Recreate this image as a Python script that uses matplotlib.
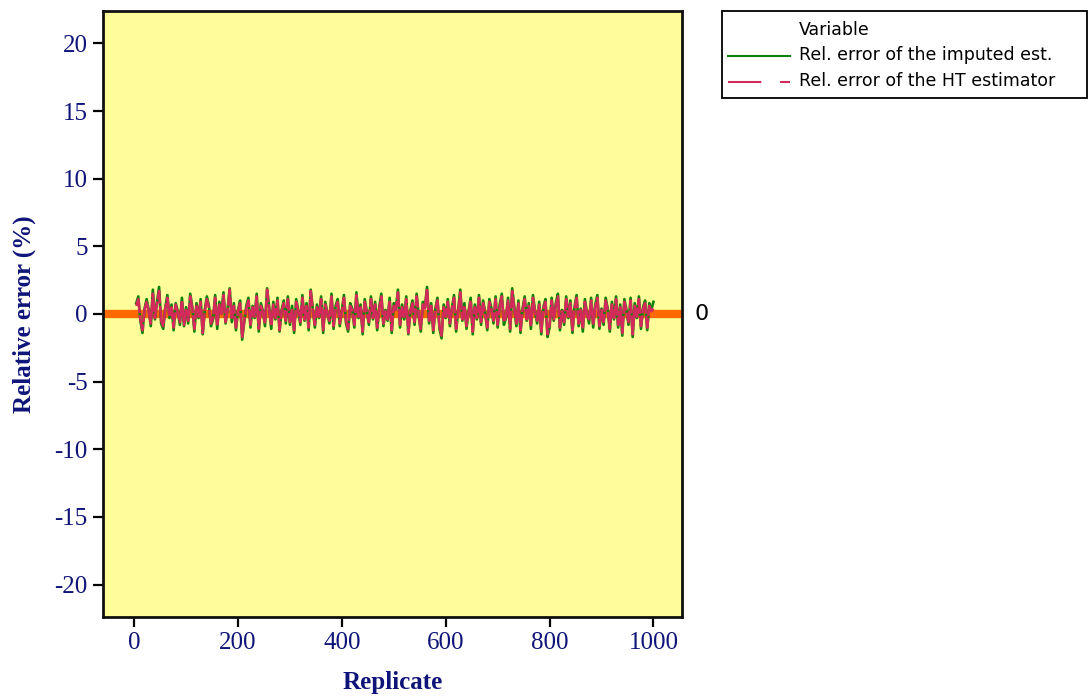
import numpy as np
import matplotlib
matplotlib.use("Agg")
import matplotlib.pyplot as plt
from matplotlib.lines import Line2D
from matplotlib.patches import Rectangle

# ---- data (every 4th replicate) ----
replicates = list(range(4, 1001, 4))

ht_error = [
    0.6, 1.1, -0.4, -1.2, 0.3, 0.9, 0.2, -0.7, 1.5, -0.3, 0.8, 1.7, -0.5, -0.9, 0.4, 1.2, -0.2, 0.5, -1.0, 0.7, 0.1, -0.6, 1.0, -0.8, 0.3,
    -0.5, 1.3, 0.4, -1.1, 0.6, -0.2, 0.9, -1.4, 0.2, 1.1, 0.5, -0.7, -0.3, 1.2, -0.9, 0.7, 0.0, 1.4, -0.6, 0.3, 1.8, -0.4, 0.6, -1.0, 0.2,
    0.8, -1.7, -0.5, 0.4, 1.0, -0.8, 0.5, -0.2, 1.3, -1.1, 0.6, 0.1, -0.7, 1.8, 0.4, -0.9, 0.7, -0.3, 1.0, -1.2, 0.2, 0.8, -0.5, 1.1, -0.6,
    0.4, -1.3, 0.9, 0.2, -0.6, 1.2, -0.4, 0.6, -1.0, 1.7, 0.3, -0.8, 0.5, -0.2, 1.1, -1.2, 0.7, 0.0, -0.5, 1.3, -0.9, 0.4, 0.9, -0.7, 0.2,
    1.2, -0.5, -1.1, 0.6, 0.3, -0.8, 1.4, -0.2, 0.5, -1.3, 0.9, 0.1, -0.6, 1.1, -0.3, 0.7, -1.0, 0.4, 1.3, -0.7, 0.2, -0.4, 1.0, -1.2, 0.6,
    0.3, 1.6, -0.8, 0.5, -0.3, 1.1, -1.4, 0.2, 0.8, -0.6, 1.3, -0.1, -1.1, 0.7, 0.4, 1.9, -0.5, 0.6, -1.2, 0.3, 1.0, -0.9, -1.6, 0.5, -0.2,
    0.9, -0.7, 0.4, 1.2, -1.1, 0.2, 1.6, -0.4, 0.6, -0.9, 0.1, 1.0, -1.3, 0.5, -0.3, 1.2, -0.6, 0.8, 0.0, -1.0, 0.9, 0.3, -0.5, 1.1, -0.8,
    0.5, 1.3, -0.6, -0.2, 1.0, -1.1, 1.7, 0.4, -0.7, 0.8, -1.2, 0.3, 1.1, -0.4, 0.6, -0.9, 1.2, 0.1, -0.5, 0.7, -1.3, 0.4, 0.9, -1.5, -0.8,
    1.0, -0.4, 0.6, 1.3, -1.0, 0.2, -0.6, 1.1, -0.2, 0.8, -1.2, 0.4, 1.2, -0.7, 0.3, -1.1, 0.9, 0.0, -0.5, 1.0, -0.8, 0.5, 1.2, -0.9, 0.3,
    -0.6, 1.0, 0.3, -1.1, 0.7, -0.3, 1.1, -0.8, 0.5, -1.4, 0.9, 0.2, -0.6, 1.0, -1.5, 0.6, -0.2, 1.1, -0.9, 0.4, 0.8, -1.0, 0.6, 0.2, 0.4,
]

imputed_error = [
    0.8, 1.3, -0.5, -1.4, 0.4, 1.1, 0.3, -0.9, 1.8, -0.4, 0.9, 2.0, -0.7, -1.1, 0.5, 1.4, -0.3, 0.7, -1.2, 0.8, 0.2, -0.8, 1.2, -0.9, 0.5,
    -0.7, 1.5, 0.5, -1.3, 0.8, -0.3, 1.1, -1.5, 0.3, 1.3, 0.6, -0.9, -0.4, 1.4, -1.1, 0.9, 0.1, 1.6, -0.7, 0.4, 1.9, -0.6, 0.8, -1.2, 0.3,
    1.0, -1.9, -0.6, 0.6, 1.2, -1.0, 0.6, -0.3, 1.5, -1.3, 0.8, 0.2, -0.9, 1.9, 0.5, -1.1, 0.9, -0.4, 1.2, -1.3, 0.3, 1.0, -0.7, 1.3, -0.8,
    0.6, -1.4, 1.1, 0.3, -0.8, 1.4, -0.5, 0.8, -1.2, 1.8, 0.4, -1.0, 0.7, -0.3, 1.3, -1.4, 0.9, 0.1, -0.7, 1.5, -1.1, 0.6, 1.1, -0.9, 0.3,
    1.4, -0.7, -1.3, 0.8, 0.4, -1.0, 1.6, -0.3, 0.7, -1.5, 1.1, 0.2, -0.8, 1.3, -0.4, 0.9, -1.2, 0.5, 1.5, -0.9, 0.3, -0.5, 1.2, -1.4, 0.8,
    0.4, 1.8, -1.0, 0.7, -0.4, 1.3, -1.5, 0.3, 1.0, -0.8, 1.5, -0.2, -1.3, 0.9, 0.5, 2.0, -0.7, 0.8, -1.4, 0.4, 1.2, -1.1, -1.8, 0.7, -0.3,
    1.1, -0.9, 0.5, 1.4, -1.3, 0.3, 1.8, -0.5, 0.8, -1.1, 0.2, 1.2, -1.5, 0.7, -0.4, 1.4, -0.8, 1.0, 0.1, -1.2, 1.1, 0.4, -0.7, 1.3, -1.0,
    0.7, 1.5, -0.8, -0.3, 1.2, -1.3, 1.9, 0.5, -0.9, 1.0, -1.4, 0.4, 1.3, -0.5, 0.8, -1.1, 1.4, 0.2, -0.7, 0.9, -1.5, 0.5, 1.1, -1.7, -1.0,
    1.2, -0.5, 0.8, 1.5, -1.2, 0.3, -0.8, 1.3, -0.3, 1.0, -1.4, 0.5, 1.4, -0.9, 0.4, -1.3, 1.1, 0.1, -0.7, 1.2, -1.0, 0.7, 1.4, -1.1, 0.4,
    -0.8, 1.2, 0.4, -1.3, 0.9, -0.4, 1.3, -1.0, 0.7, -1.6, 1.1, 0.3, -0.8, 1.2, -1.7, 0.8, -0.3, 1.3, -1.1, 0.5, 1.0, -1.2, 0.8, 0.3, 0.9,
]

x_ticks = [0, 200, 400, 600, 800, 1000]
y_ticks = [20, 15, 10, 5, 0, -5, -10, -15, -20]
reference_value = 0
legend_title = "Variable"
series_names = ["Rel. error of the imputed est.", "Rel. error of the HT estimator"]

# ---- styling ----
W, H = 1089, 696
NAVY = "#0F1478"
GREEN = "#0A820A"
CRIMSON = "#D22A5A"
ORANGE = "#FF6A00"
BG = "#FFFD99"

fig = plt.figure(figsize=(W / 100, H / 100), dpi=100)
ax = fig.add_axes([103 / W, 1 - 617 / H, (682 - 103) / W, (617 - 11) / H])
ax.set_facecolor(BG)

ax.axhline(reference_value, color=ORANGE, lw=6, zorder=1)
ax.plot(replicates, imputed_error, color=GREEN, lw=1.9, zorder=2)
ax.plot(replicates, ht_error, color=CRIMSON, lw=1.9, ls=(0, (8, 0.8)), zorder=3)

ax.set_xlim(-60, 1055)
ax.set_ylim(-22.4, 22.4)
ax.set_xticks(x_ticks)
ax.set_yticks(y_ticks)
ax.set_xticklabels([str(t) for t in x_ticks], family="Liberation Serif", fontsize=18, color=NAVY)
ax.set_yticklabels([str(t) for t in y_ticks], family="Liberation Serif", fontsize=18, color=NAVY)
ax.tick_params(direction="out", length=7, width=1.6, colors="black", labelcolor=NAVY, pad=4)
for s in ax.spines.values():
    s.set_linewidth(2)
    s.set_color("#111111")

ax.set_xlabel("Replicate", family="Liberation Serif", fontsize=18, fontweight="bold", color=NAVY, labelpad=12)
ax.set_ylabel("Relative error (%)", family="Liberation Serif", fontsize=18, fontweight="bold", color=NAVY, labelpad=13)

# reference label at the right of the axes
fig.text(695 / W, 1 - 314 / H, str(reference_value), family="DejaVu Sans", fontsize=16,
         va="center", ha="left", color="black")

# ---- legend (outside, right) ----
fig.patches.append(Rectangle((722 / W, 1 - 98 / H), (1087 - 722) / W, (98 - 11) / H,
                             transform=fig.transFigure, fill=False, edgecolor="black", lw=1.3))
fig.text(799 / W, 1 - 30 / H, legend_title, family="DejaVu Sans", fontsize=12.5, va="center")
fig.lines.append(Line2D([728 / W, 790 / W], [1 - 56 / H] * 2, transform=fig.transFigure,
                        color=GREEN, lw=1.5))
fig.text(799 / W, 1 - 55 / H, series_names[0], family="DejaVu Sans", fontsize=12.5, va="center")
fig.lines.append(Line2D([728 / W, 790 / W], [1 - 82 / H] * 2, transform=fig.transFigure,
                        color=CRIMSON, lw=1.5, ls=(0, (16, 9))))
fig.text(799 / W, 1 - 81 / H, series_names[1], family="DejaVu Sans", fontsize=12.5, va="center")

fig.savefig("out.png", dpi=100)
